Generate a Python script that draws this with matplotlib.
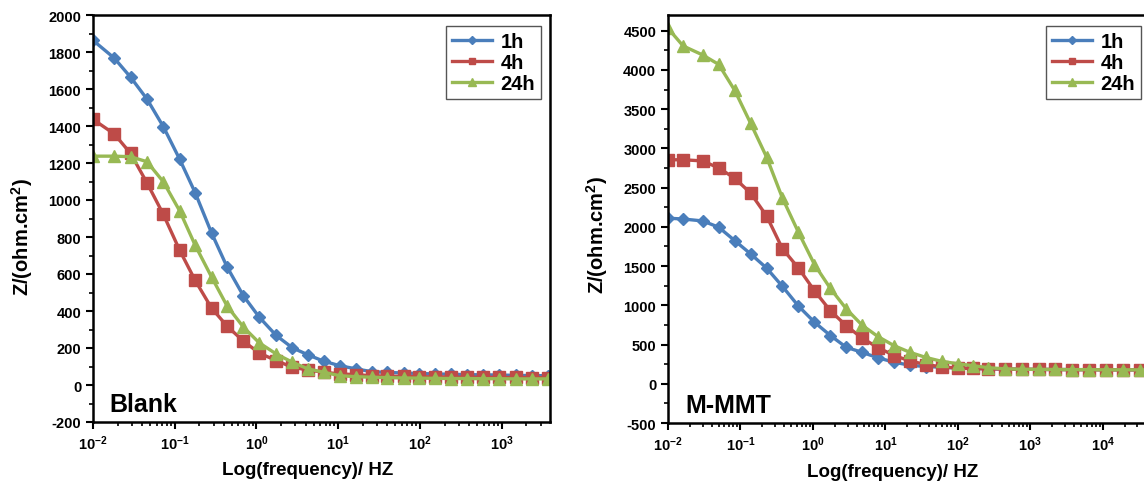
import matplotlib
matplotlib.use("Agg")
import numpy as np
import matplotlib.pyplot as plt
from matplotlib.ticker import LogLocator, MultipleLocator, FuncFormatter, NullFormatter

plt.rcParams["font.family"] = "Liberation Sans"
plt.rcParams["font.weight"] = "bold"
plt.rcParams["axes.unicode_minus"] = False
plt.rcParams["mathtext.fontset"] = "custom"
plt.rcParams["mathtext.rm"] = "Liberation Sans:bold"
plt.rcParams["mathtext.bf"] = "Liberation Sans:bold"
plt.rcParams["mathtext.default"] = "bf"

# Blank panel - frequency (Hz) and |Z| (ohm.cm2)
freq_blank = [0.01, 0.0182, 0.0288, 0.0457, 0.0724, 0.115, 0.178, 0.282, 0.437, 0.692,
              1.08, 1.74, 2.75, 4.27, 6.61, 10.5, 16.6, 25.7, 39.8, 63.1,
              97.7, 151, 240, 372, 589, 933, 1479, 2344, 3715]
blank_1h = [1863, 1767, 1664, 1546, 1397, 1220, 1039, 822, 638, 482,
            367, 268, 201, 163, 129, 104, 87, 72, 68, 65,
            62, 60, 58, 56, 55, 54, 52, 51, 50]
blank_4h = [1436, 1357, 1252, 1093, 923, 728, 565, 416, 318, 237,
            173, 132, 96, 81, 69, 60, 56, 50, 48, 46,
            45, 44, 43, 42, 42, 41, 41, 40, 40]
blank_24h = [1237, 1237, 1234, 1207, 1099, 941, 755, 584, 427, 313,
             228, 168, 123, 87, 69, 50, 45, 42, 40, 38,
             37, 36, 35, 35, 34, 34, 33, 33, 33]

# M-MMT panel
freq_mmt = [0.01, 0.0162, 0.0302, 0.0501, 0.0832, 0.138, 0.229, 0.380, 0.631, 1.05,
            1.74, 2.88, 4.79, 7.94, 13.2, 21.9, 36.3, 60.3, 100, 162,
            263, 447, 759, 1318, 2188, 3802, 6457, 10965, 19055, 32359, 54954]
mmt_1h = [2110, 2100, 2075, 1995, 1825, 1655, 1475, 1240, 990, 785,
          615, 465, 400, 330, 275, 235, 220, 210, 200, 195,
          190, 188, 185, 183, 182, 180, 180, 178, 178, 177, 177]
mmt_4h = [2855, 2855, 2840, 2750, 2620, 2430, 2140, 1720, 1475, 1185,
          930, 740, 580, 460, 360, 290, 245, 215, 200, 195,
          190, 188, 185, 183, 182, 180, 180, 178, 178, 177, 177]
mmt_24h = [4530, 4305, 4190, 4070, 3740, 3320, 2890, 2365, 1930, 1520,
           1215, 955, 745, 600, 485, 400, 335, 285, 255, 230,
           205, 190, 185, 183, 182, 180, 180, 178, 178, 177, 177]

labels = ["1h", "4h", "24h"]
colors = ["#4a7ebb", "#be4b48", "#98b954"]
markers = ["D", "s", "^"]
msizes = [6.5, 8, 8.5]


def sci(x, pos):
    return r"$10^{%d}$" % round(np.log10(x))


fig = plt.figure(figsize=(11.44, 4.89), dpi=100)
ax1 = fig.add_axes([93 / 1144, 66 / 489, 457 / 1144, 407 / 489])
ax2 = fig.add_axes([668 / 1144, 65 / 489, 504 / 1144, 408 / 489])

panels = [
    (ax1, freq_blank, [blank_1h, blank_4h, blank_24h], (0.01, 3900), (-200, 2000), 200, "Blank",
     541, (-0.127, 0.457), 0.469),
    (ax2, freq_mmt, [mmt_1h, mmt_4h, mmt_24h], (0.01, 9e4), (-500, 4700), 500, "M-MMT",
     1141, (-0.115, 0.463), 0.446),
]

for ax, f, series, xl, yl, step, name, leg_x, ylab_xy, xlab_x in panels:
    for y, lab, c, m, ms in zip(series, labels, colors, markers, msizes):
        ax.plot(f, y, color=c, marker=m, markersize=ms, linewidth=2.4, label=lab)
    ax.set_xscale("log")
    ax.set_xlim(*xl)
    ax.set_ylim(*yl)
    ax.xaxis.set_major_locator(LogLocator(base=10, numticks=12))
    ax.xaxis.set_minor_locator(LogLocator(base=10, subs=np.arange(2, 10), numticks=12))
    ax.xaxis.set_major_formatter(FuncFormatter(sci))
    ax.xaxis.set_minor_formatter(NullFormatter())
    ax.yaxis.set_major_locator(MultipleLocator(step))
    ax.yaxis.set_minor_locator(MultipleLocator(step / 2))
    ax.tick_params(which="major", direction="out", length=5, width=1.5, labelsize=10.5)
    ax.tick_params(which="minor", direction="out", length=3, width=1.2)
    for sp in ax.spines.values():
        sp.set_linewidth(1.8)
    ax.set_ylabel("Z/(ohm.cm$^2$)", fontsize=14.5, fontweight="bold")
    ax.set_xlabel("Log(frequency)/ HZ", fontsize=13.5, fontweight="bold")
    ax.yaxis.set_label_coords(*ylab_xy)
    ax.xaxis.set_label_coords(xlab_x, -0.097)
    ax.text(0.035, 0.028, name, transform=ax.transAxes, fontsize=18,
            fontweight="bold", va="baseline")
    leg = ax.legend(loc="upper right", bbox_to_anchor=(leg_x / 1144, 1 - 27 / 489),
                    bbox_transform=fig.transFigure, fontsize=14.5, fancybox=False,
                    framealpha=1, edgecolor="#555555", handlelength=2.0,
                    handletextpad=0.4, borderpad=0.3, labelspacing=0.1,
                    markerscale=0.6, borderaxespad=0)
    leg.get_frame().set_linewidth(1.0)

fig.savefig("out.png", dpi=100)
